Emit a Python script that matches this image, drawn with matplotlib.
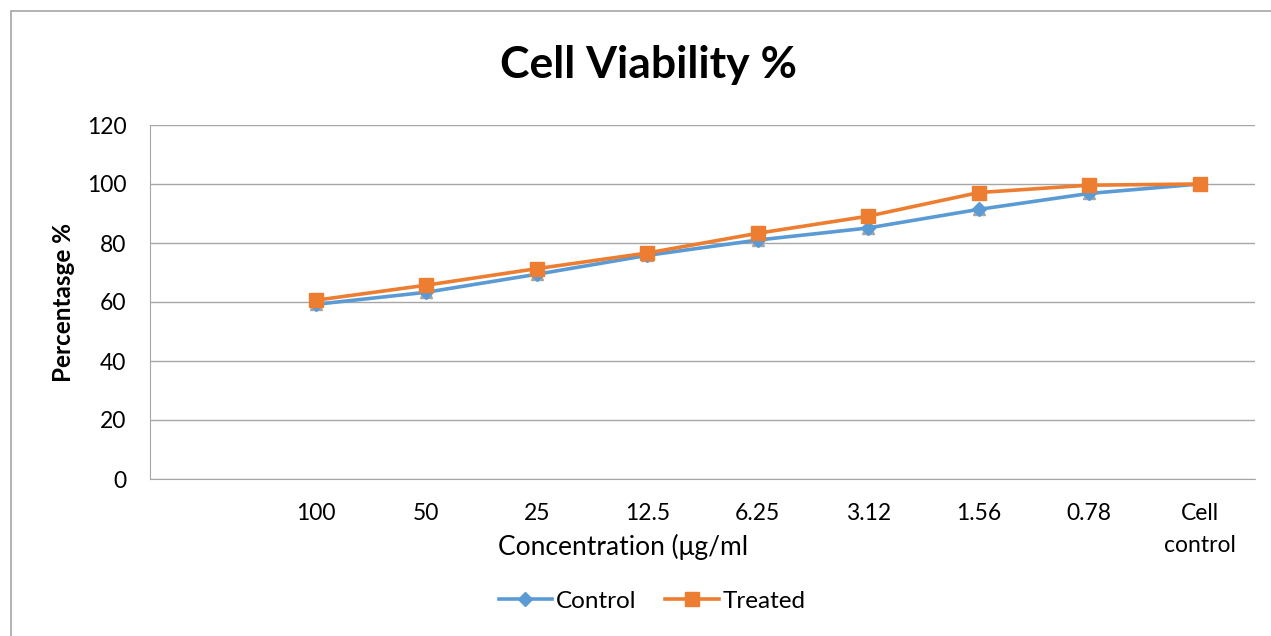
import matplotlib.pyplot as plt
from matplotlib.patches import Rectangle

plt.rcParams['font.family'] = ['Lato', 'DejaVu Sans']

# data (first category slot is empty in the original chart)
categories = ["", "100", "50", "25", "12.5", "6.25", "3.12", "1.56", "0.78", "Cell\ncontrol"]
control = [None, 59.2, 63.3, 69.4, 75.8, 81.0, 85.1, 91.4, 96.8, 100.0]
treated = [None, 60.6, 65.7, 71.3, 76.6, 83.3, 89.1, 97.1, 99.6, 100.0]

blue = '#5B9BD5'
orange = '#ED7D31'
grey = '#A5A5A5'

fig = plt.figure(figsize=(12.71, 6.36), dpi=100)
ax = fig.add_axes([150 / 1271, 1 - 479 / 636, 1105 / 1271, 354 / 636])

x = list(range(len(categories)))
xs = [i for i, v in zip(x, control) if v is not None]
cv = [v for v in control if v is not None]
tv = [v for v in treated if v is not None]

# hidden grey series sitting under the control markers
ax.plot(xs, cv, linestyle='none', marker='^', color=grey, markersize=9, zorder=2)
ax.plot(xs, cv, color=blue, linewidth=2.6, marker='D', markersize=7, label='Control', zorder=3)
ax.plot(xs, tv, color=orange, linewidth=2.6, marker='s', markersize=10, label='Treated', zorder=4)

ax.set_xlim(-0.5, len(categories) - 0.5)
ax.set_ylim(0, 120)
ax.set_yticks(range(0, 121, 20))
ax.set_xticks(x)
ax.set_xticklabels(categories, fontsize=16.5, linespacing=1.65, va='top')
ax.tick_params(axis='y', labelsize=16.5, length=0, pad=17)
ax.tick_params(axis='x', length=0, pad=17)
ax.grid(axis='y', color='#A6A6A6', linewidth=1.0)
ax.set_axisbelow(True)
for s in ['top', 'right']:
    ax.spines[s].set_visible(False)
ax.spines['left'].set_color('#A6A6A6')
ax.spines['bottom'].set_color('#A6A6A6')

ax.set_ylabel('Percentasge %', fontsize=17.5, fontweight='bold')
ax.yaxis.set_label_coords((75 - 150) / 1105, 0.5)
ax.set_xlabel('Concentration (μg/ml', fontsize=19, labelpad=0)
ax.xaxis.set_label_coords((623 - 150) / 1105, -0.155)

fig.text(648 / 1271, 1 - 65 / 636, 'Cell Viability %', fontsize=32, fontweight='bold',
         ha='center', va='center')

fig.legend(loc='center', bbox_to_anchor=(652 / 1271, 1 - 601 / 636), ncol=2, frameon=False,
           fontsize=17.5, handlelength=2.2, columnspacing=1.2, handletextpad=0.15)

# chart border, clipped at the right and bottom like the original
fig.patches.append(Rectangle((11 / 1271, -0.1), 1.2, 1 - 11 / 636 + 0.1, transform=fig.transFigure,
                             fill=False, edgecolor='#A6A6A6', linewidth=1.2))

plt.savefig('out.png', dpi=100)
